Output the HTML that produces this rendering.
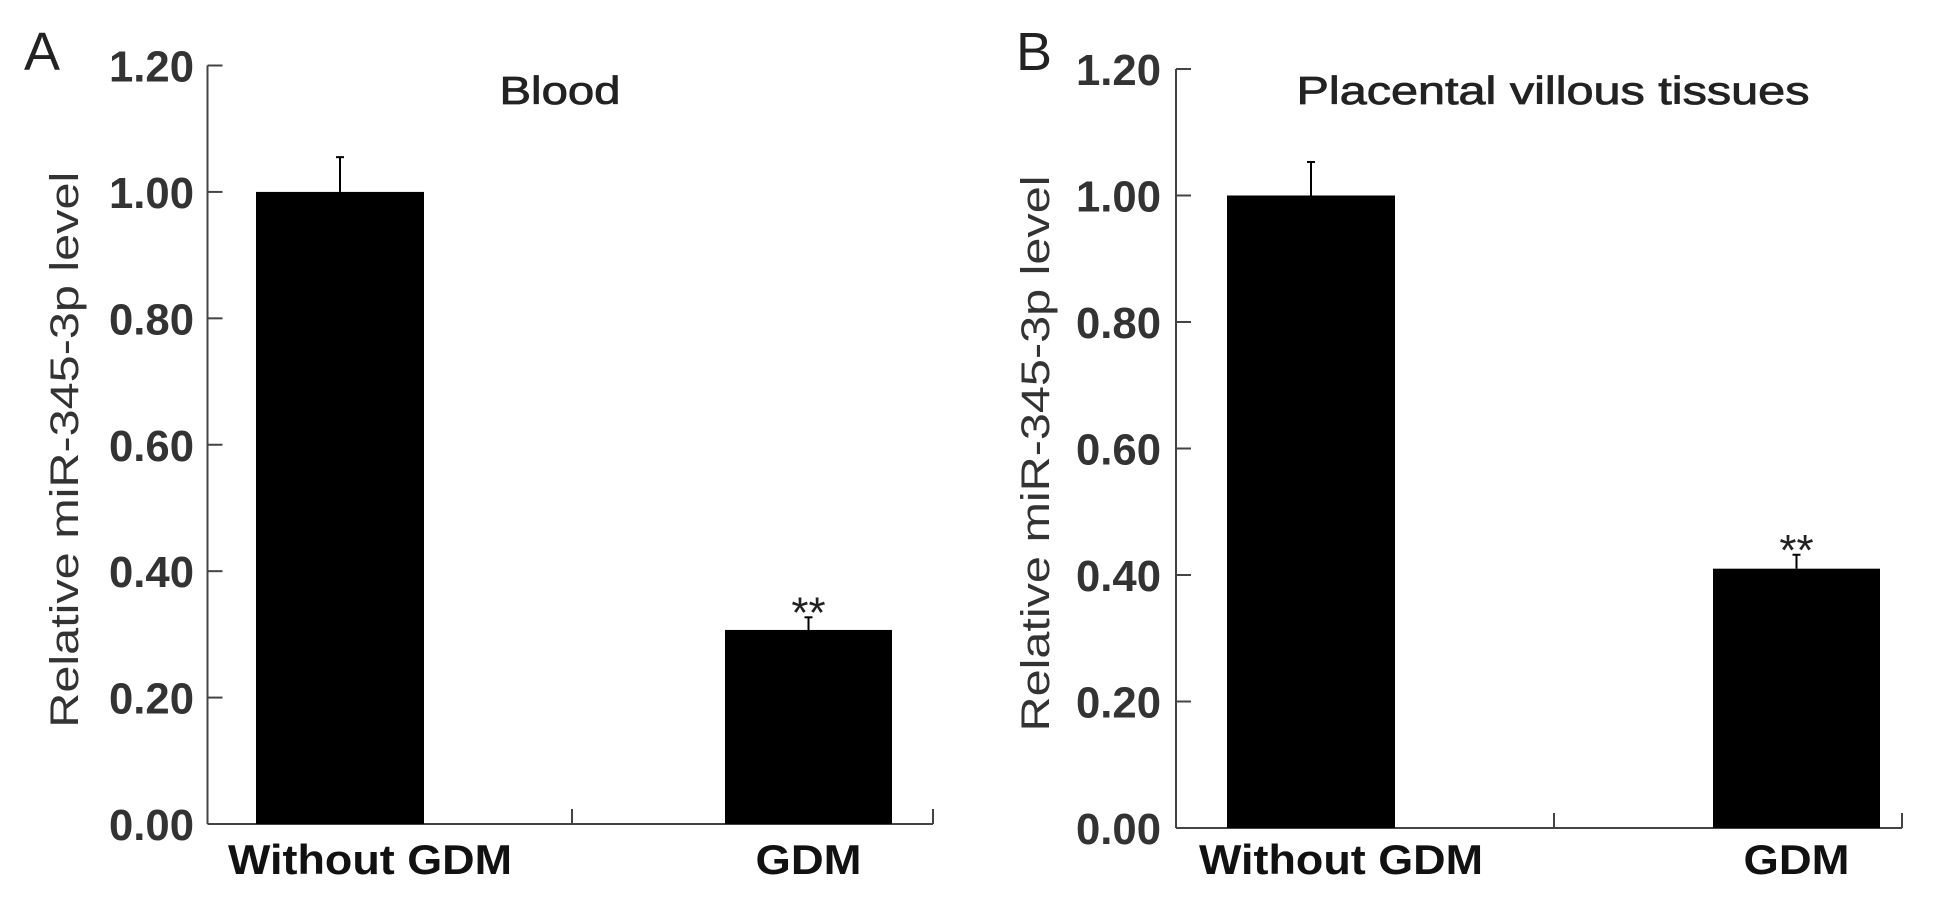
<!DOCTYPE html>
<html><head><meta charset="utf-8"><style>
html,body{margin:0;padding:0;background:#fff;}
svg{display:block;font-family:"Liberation Sans",Arial,sans-serif;}
</style></head><body>
<svg id="chart" width="1937" height="905" viewBox="0 0 1937 905"></svg>
<script>
const categories = ["Without GDM", "GDM"];
const bloodValues = [1.00, 0.307];
const bloodErrors = [0.055, 0.02];
const placentaValues = [1.00, 0.41];
const placentaErrors = [0.053, 0.022];
const tickValues = [0, 0.2, 0.4, 0.6, 0.8, 1.0, 1.2];
const tickLabels = ["0.00", "0.20", "0.40", "0.60", "0.80", "1.00", "1.20"];
const significance = ["", "**"];

const NS = "http://www.w3.org/2000/svg";
const svg = document.getElementById('chart');
function mk(tag, attrs, parent, text) {
  const e = document.createElementNS(NS, tag);
  for (const k in attrs) e.setAttribute(k, attrs[k]);
  if (text !== undefined) e.textContent = text;
  parent.appendChild(e);
  return e;
}

const panels = [
  {letter:"A", title:"Blood", values:bloodValues, errors:bloodErrors, ax0:207.5, ax1:933, mid:572, y0:824, y1:65.5,
   bars:[[256,424],[725,892]], letterX:43, titleX:560, titleW:121, ytitleX:64, tickRight:194, name:"blood"},
  {letter:"B", title:"Placental villous tissues", values:placentaValues, errors:placentaErrors, ax0:1176, ax1:1902, mid:1554, y0:828, y1:69,
   bars:[[1227,1395],[1713,1880]], letterX:1035, titleX:1553, titleW:513, ytitleX:1035, tickRight:1161, name:"placenta"}
];

panels.forEach(p => {
  const g = mk('g', {}, svg);
  
  
  const y = v => p.y0 - (v / 1.2) * (p.y0 - p.y1);

  const L = mk('text', {x:p.letterX - 19, y:70, 'font-size':54, fill:'#222'}, g, p.letter);
  
  

  const t = mk('text', {x:p.titleX, y:104, 'font-size':39, 'text-anchor':'middle', fill:'#222', stroke:'#222', 'stroke-width':0.8, textLength:p.titleW, lengthAdjust:'spacingAndGlyphs'}, g, p.title);
  
  

  const yt = mk('text', {x:0, y:0, 'font-size':40, 'text-anchor':'middle', fill:'#333', transform:`translate(${p.ytitleX + 14},${(p.y0 + p.y1)/2 + 5}) rotate(-90)`, textLength:556, lengthAdjust:'spacingAndGlyphs'}, g, 'Relative miR-345-3p level');
  
  

  const ya = mk('line', {x1:p.ax0, y1:p.y1, x2:p.ax0, y2:p.y0, stroke:'#444', 'stroke-width':2}, g);
  
  
  const xa = mk('line', {x1:p.ax0, y1:p.y0, x2:p.ax1, y2:p.y0, stroke:'#444', 'stroke-width':2}, g);
  
  
  [p.mid, p.ax1].forEach(xx => {
    const tk = mk('line', {x1:xx, y1:p.y0, x2:xx, y2:p.y0 - 15, stroke:'#444', 'stroke-width':2}, g);
    
    
  });

  tickValues.forEach((v, i) => {
    const ty = y(v);
    const tk = mk('line', {x1:p.ax0, y1:ty, x2:p.ax0 + 15, y2:ty, stroke:'#444', 'stroke-width':2}, g);
    
    
    const lb = mk('text', {x:p.tickRight, y:ty + 16, 'font-size':44, 'font-weight':'bold', 'text-anchor':'end', fill:'#333', textLength:85, lengthAdjust:'spacingAndGlyphs'}, g, tickLabels[i]);
    
    
  });

  categories.forEach((c, i) => {
    const [bx0, bx1] = p.bars[i];
    const cx = (bx0 + bx1) / 2;
    const top = y(p.values[i]);
    const r = mk('rect', {x:bx0, y:top, width:bx1 - bx0, height:p.y0 - top, fill:'#000'}, g);
    
    
    const et = y(p.values[i] + p.errors[i]);
    const e1 = mk('line', {x1:cx, y1:top, x2:cx, y2:et, stroke:'#000', 'stroke-width':2}, g);
    
    
    const e2 = mk('line', {x1:cx - 4, y1:et, x2:cx + 4, y2:et, stroke:'#000', 'stroke-width':2}, g);
    
    
    if (significance[i]) {
      const s = mk('text', {x:cx, y:et + 10, 'font-size':44, 'text-anchor':'middle', fill:'#222'}, g, significance[i]);
      
      
    }
    const cl = mk('text', {x:cx + (i === 0 ? 30 : 0), y:874, 'font-size':42, 'font-weight':'bold', 'text-anchor':'middle', fill:'#111', textLength:(i === 0 ? 284 : 106), lengthAdjust:'spacingAndGlyphs'}, g, c);
    
    
  });
});
</script>
</body></html>
